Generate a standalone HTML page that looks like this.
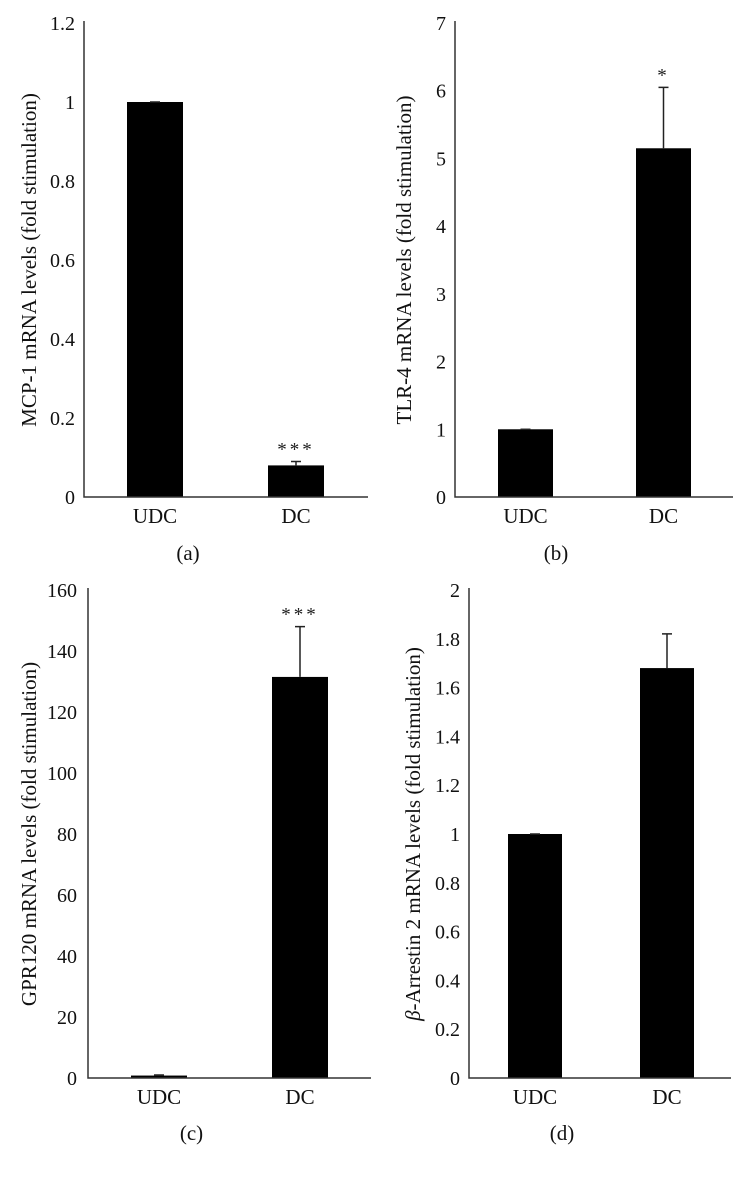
<!DOCTYPE html>
<html><head><meta charset="utf-8"><style>
html,body{margin:0;padding:0;background:#fff;}
svg{display:block;font-family:"Liberation Serif",serif;}
</style></head><body>
<svg id="fig" width="740" height="1177" viewBox="0 0 740 1177"></svg>
<script>
const categories = ["UDC", "DC"];
const panelLetters = ["(a)", "(b)", "(c)", "(d)"];
const yTitles = ["MCP-1 mRNA levels (fold stimulation)", "TLR-4 mRNA levels (fold stimulation)", "GPR120 mRNA levels (fold stimulation)", "-Arrestin 2 mRNA levels (fold stimulation)"];
const valuesA = [1.0, 0.08];
const errorsA = [0.0, 0.01];
const valuesB = [1.0, 5.15];
const errorsB = [0.0, 0.9];
const valuesC = [0.8, 131.5];
const errorsC = [0.2, 16.5];
const valuesD = [1.0, 1.68];
const errorsD = [0.0, 0.14];
const ticksA = [0, 0.2, 0.4, 0.6, 0.8, 1, 1.2];
const ticksB = [0, 1, 2, 3, 4, 5, 6, 7];
const ticksC = [0, 20, 40, 60, 80, 100, 120, 140, 160];
const ticksD = [0, 0.2, 0.4, 0.6, 0.8, 1, 1.2, 1.4, 1.6, 1.8, 2];
const sigA = ["", "***"];
const sigB = ["", "*"];
const sigC = ["", "***"];
const sigD = ["", ""];

const NS = "http://www.w3.org/2000/svg";
const svg = document.getElementById("fig");
function mk(tag, attrs, parent) {
  const e = document.createElementNS(NS, tag);
  for (const k in attrs) e.setAttribute(k, attrs[k]);
  (parent || svg).appendChild(e);
  return e;
}
const panels = [
  {vals: valuesA, errs: errorsA, ticks: ticksA, sig: sigA, ax: 84, axEnd: 368, top: 23, zero: 497, bars: [127, 268], bw: 56, lab: 516, letterY: 553, tickR: 75, titleX: 30},
  {vals: valuesB, errs: errorsB, ticks: ticksB, sig: sigB, ax: 455, axEnd: 733, top: 23, zero: 497, bars: [498, 636], bw: 55, lab: 516, letterY: 553, tickR: 446, titleX: 405},
  {vals: valuesC, errs: errorsC, ticks: ticksC, sig: sigC, ax: 88, axEnd: 371, top: 590, zero: 1078, bars: [131, 272], bw: 56, lab: 1097, letterY: 1133, tickR: 77, titleX: 30},
  {vals: valuesD, errs: errorsD, ticks: ticksD, sig: sigD, ax: 469, axEnd: 731, top: 590, zero: 1078, bars: [508, 640], bw: 54, lab: 1097, letterY: 1133, tickR: 460, titleX: 414}
];
panels.forEach((p, pi) => {
  const g = mk("g", {});
  
  
  const maxV = p.ticks[p.ticks.length - 1];
  const y = v => p.zero - (v / maxV) * (p.zero - p.top);
  p.ticks.forEach(t => {
    const tx = mk("text", {x: p.tickR, y: y(t) + 7, "text-anchor": "end", "font-size": 20, fill: "#111"}, g);
    tx.textContent = String(t);
    
    
  });
  p.vals.forEach((v, i) => {
    const x0 = p.bars[i];
    const r = mk("rect", {x: x0, y: y(v), width: p.bw, height: p.zero - y(v), fill: "#000"}, g);
    
    
    const cx = x0 + p.bw / 2;
    const et = y(v + p.errs[i]);
    const el = mk("path", {d: `M${cx},${y(v)}V${et}M${cx - 5},${et}H${cx + 5}`, stroke: "#222", "stroke-width": 1.5, fill: "none"}, g);
    
    
    if (p.sig[i]) {
      const s = mk("text", {x: cx, y: et - 6, "text-anchor": "middle", "font-size": 19, "letter-spacing": 3, fill: "#222"}, g);
      s.textContent = p.sig[i];
      
      
    }
    const cl = mk("text", {x: cx, y: p.lab + 7, "text-anchor": "middle", "font-size": 21, fill: "#111"}, g);
    cl.textContent = categories[i];
    
    
  });
  const axes = mk("path", {d: `M${p.ax},${p.top - 2}V${p.zero}H${p.axEnd}`, stroke: "#333", "stroke-width": 1.5, fill: "none"}, g);
  
  
  const midY = (p.top + p.zero) / 2;
  const tt = mk("text", {x: 0, y: 0, transform: `translate(${p.titleX + 6},${midY}) rotate(-90)`, "text-anchor": "middle", "font-size": 21, fill: "#111"}, g);
  if (pi === 3) {
    const b = mk("tspan", {"font-style": "italic"}, tt);
    b.textContent = "β";
    const r = mk("tspan", {}, tt);
    r.textContent = yTitles[pi];
  } else {
    tt.textContent = yTitles[pi];
  }
  
  
  const lt = mk("text", {x: (p.ax + p.axEnd) / 2 - 38, y: p.letterY + 7, "text-anchor": "middle", "font-size": 21, fill: "#111"}, g);
  lt.textContent = panelLetters[pi];
  
  
});
</script>
</body></html>
